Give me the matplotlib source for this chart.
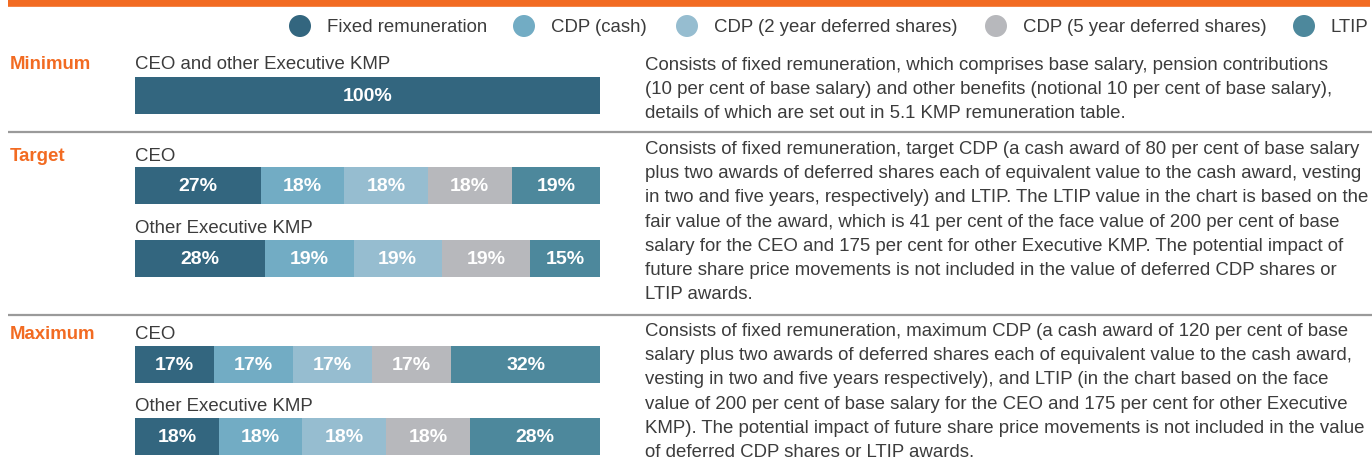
import matplotlib
matplotlib.use("Agg")
import matplotlib.pyplot as plt
from matplotlib.patches import Ellipse

plt.rcParams['font.family'] = ['Liberation Sans', 'DejaVu Sans']

# Remuneration components
components = ["Fixed remuneration", "CDP (cash)", "CDP (2 year deferred shares)",
              "CDP (5 year deferred shares)", "LTIP"]
colors = ["#33667F", "#72ACC4", "#96BDD0", "#B7B8BC", "#4D889C"]

# Mix of remuneration (per cent) for each scenario / role
minimum_all = [100, 0, 0, 0, 0]
target_ceo = [27, 18, 18, 18, 19]
target_other = [28, 19, 19, 19, 15]
maximum_ceo = [17, 17, 17, 17, 32]
maximum_other = [18, 18, 18, 18, 28]

scenarios = ["Minimum", "Target", "Maximum"]
role_labels = ["CEO and other Executive KMP", "CEO", "Other Executive KMP",
               "CEO", "Other Executive KMP"]

descriptions = [
    ["Consists of fixed remuneration, which comprises base salary, pension contributions",
     "(10 per cent of base salary) and other benefits (notional 10 per cent of base salary),",
     "details of which are set out in 5.1 KMP remuneration table."],
    ["Consists of fixed remuneration, target CDP (a cash award of 80 per cent of base salary",
     "plus two awards of deferred shares each of equivalent value to the cash award, vesting",
     "in two and five years, respectively) and LTIP. The LTIP value in the chart is based on the",
     "fair value of the award, which is 41 per cent of the face value of 200 per cent of base",
     "salary for the CEO and 175 per cent for other Executive KMP. The potential impact of",
     "future share price movements is not included in the value of deferred CDP shares or",
     "LTIP awards."],
    ["Consists of fixed remuneration, maximum CDP (a cash award of 120 per cent of base",
     "salary plus two awards of deferred shares each of equivalent value to the cash award,",
     "vesting in two and five years respectively), and LTIP (in the chart based on the face",
     "value of 200 per cent of base salary for the CEO and 175 per cent for other Executive",
     "KMP). The potential impact of future share price movements is not included in the value",
     "of deferred CDP shares or LTIP awards."],
]

W, H = 1372, 461
fig = plt.figure(figsize=(W / 100, H / 100), dpi=100)
fig.patch.set_facecolor("white")

# full-figure overlay axes in pixel units (y downwards)
bg = fig.add_axes([0, 0, 1, 1])
bg.set_xlim(0, W)
bg.set_ylim(H, 0)
bg.axis("off")

TEXT = "#3C3C3C"
ORANGE = "#F26B22"
FS = 13.4
FS_PCT = 14.0
DY = 1.5  # small downward nudge so text sits on the same lines as the bars

# top rule and section separators
bg.plot([8, 1370], [3.5, 3.5], color=ORANGE, lw=5.5, solid_capstyle="butt")
for ysep in (132, 315):
    bg.plot([8, 1372], [ysep, ysep], color="#9A9A9A", lw=1.6, solid_capstyle="butt")

# legend
leg_x = [300, 524, 687, 996, 1304]
for cx, lab, col in zip(leg_x, components, colors):
    bg.add_patch(Ellipse((cx, 26), 22, 22, color=col, lw=0))
    bg.text(cx + 27, 26 + DY, lab, fontsize=FS, color=TEXT, va="center", ha="left")

# scenario titles
for lab, y in zip(scenarios, (63, 155, 333)):
    bg.text(10, y + DY, lab, fontsize=FS, color=ORANGE, fontweight="bold", va="center")

# stacked bars, one axes per row
rows = [minimum_all, target_ceo, target_other, maximum_ceo, maximum_other]
label_y = [63, 155, 227, 333, 405]
bar_top = [77, 167, 240, 346, 418]
bar_h = 37
bx0, bw = 135, 465
for vals, rl, ly, top in zip(rows, role_labels, label_y, bar_top):
    bg.text(bx0, ly + DY, rl, fontsize=FS, color=TEXT, va="center")
    ax = fig.add_axes([bx0 / W, 1 - (top + bar_h) / H, bw / W, bar_h / H])
    ax.set_xlim(0, sum(vals))
    ax.set_ylim(-0.5, 0.5)
    ax.axis("off")
    left = 0
    for v, col in zip(vals, colors):
        if v > 0:
            ax.barh(0, v, left=left, height=1.0, color=col, lw=0)
            ax.text(left + v / 2, -0.03, f"{v}%", color="white", fontsize=FS_PCT,
                    fontweight="bold", ha="center", va="center")
        left += v

# descriptive text blocks
for lines, y0 in zip(descriptions, (64, 148, 330)):
    for i, line in enumerate(lines):
        bg.text(645, y0 + DY + i * 24.2, line, fontsize=FS, color=TEXT,
                va="center", ha="left")

fig.savefig("out.png", dpi=100, facecolor="white")
